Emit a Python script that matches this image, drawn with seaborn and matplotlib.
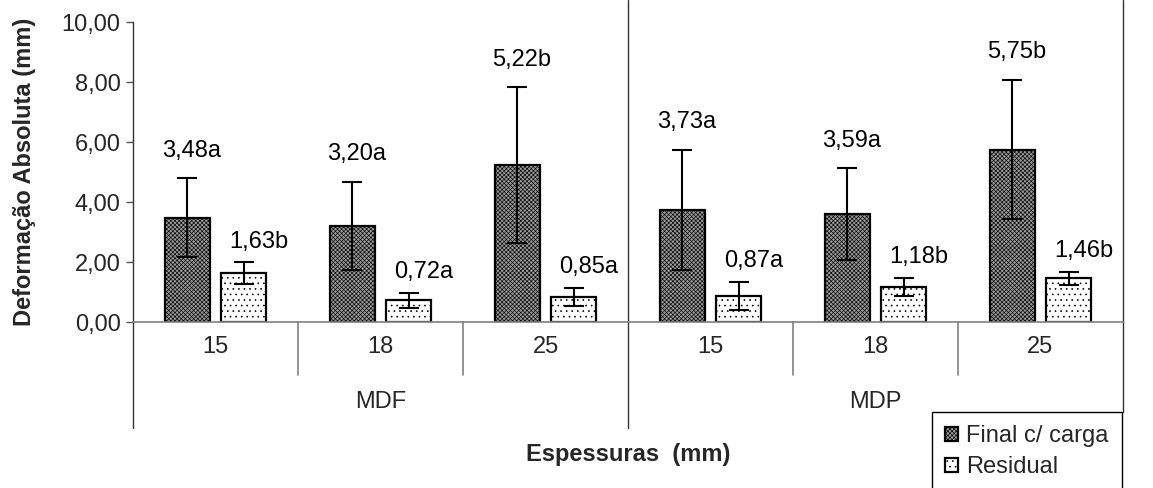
import matplotlib
matplotlib.use("Agg")
import matplotlib.pyplot as plt
from matplotlib.patches import Rectangle
import seaborn as sns
import pandas as pd

# ---- data ----
materials = ["MDF", "MDP"]
thicknesses = ["15", "18", "25"]
series = ["Final c/ carga", "Residual"]
final_vals = [3.48, 3.20, 5.22, 3.73, 3.59, 5.75]
final_err = [1.31, 1.47, 2.60, 2.00, 1.53, 2.32]
final_letters = ["a", "a", "b", "a", "a", "b"]
resid_vals = [1.63, 0.72, 0.85, 0.87, 1.18, 1.46]
resid_err = [0.36, 0.26, 0.30, 0.48, 0.30, 0.21]
resid_letters = ["b", "a", "a", "a", "b", "b"]
yticks = [0, 2, 4, 6, 8, 10]

cats = [f"{m} {t}" for m in materials for t in thicknesses]
df = pd.DataFrame({
    "cat": cats * 2,
    "serie": [series[0]] * 6 + [series[1]] * 6,
    "valor": final_vals + resid_vals,
})

sns.set_theme(style="white")
plt.rcParams["font.family"] = ["Liberation Sans", "DejaVu Sans"]
plt.rcParams["hatch.linewidth"] = 0.45

FS = 17
FSB = 17
fig = plt.figure(figsize=(11.53, 4.88), dpi=100)
ax = fig.add_axes([133 / 1153, 1 - 322 / 488, (1123 - 133) / 1153, 300 / 488])

sns.barplot(data=df, x="cat", y="valor", hue="serie", order=cats, hue_order=series,
            palette={series[0]: "#9a9a9a", series[1]: "white"},
            width=0.68, gap=0.2, edgecolor="black", linewidth=1.6,
            errorbar=None, legend=False, ax=ax)

hatches = ["xxxxxxxx", "..."]
errs = [final_err, resid_err]
vals = [final_vals, resid_vals]
letters = [final_letters, resid_letters]
label_offsets = [(3, 12), (11, 7)]

# group the drawn bars by series (left bar of each group = first series)
bars = [p for p in ax.patches if isinstance(p, Rectangle) and p.get_width() > 0]
groups = [[None] * len(cats), [None] * len(cats)]
for p in bars:
    xc = p.get_x() + p.get_width() / 2
    i = int(round(xc))
    k = 0 if xc < i else 1
    groups[k][i] = p

for k in range(2):
    xs = []
    for p in groups[k]:
        p.set_hatch(hatches[k])
        xs.append(p.get_x() + p.get_width() / 2)
    ax.errorbar(xs, vals[k], yerr=errs[k], fmt="none", ecolor="black",
                elinewidth=1.5, capsize=7, capthick=1.5, zorder=5)
    for x, v, e, l in zip(xs, vals[k], errs[k], letters[k]):
        txt = f"{v:.2f}".replace(".", ",") + l
        ax.annotate(txt, (x, v + e), xytext=label_offsets[k], textcoords="offset points",
                    ha="center", va="bottom", fontsize=FS, color="black")

ax.set_xlim(-0.5, 5.5)
ax.set_ylim(0, 10)
ax.set_yticks(yticks)
ax.set_yticklabels([f"{t:.2f}".replace(".", ",") for t in yticks], fontsize=FS)
ax.tick_params(axis="y", direction="out", length=5, width=1, color="#555555", pad=4, left=True)
ax.tick_params(axis="x", bottom=False, labelbottom=False)
ax.set_xlabel("")
ax.set_ylabel("Deformação Absoluta (mm)", fontsize=FSB, fontweight="bold", labelpad=18)

for s in ["top", "right"]:
    ax.spines[s].set_visible(False)
ax.spines["left"].set_color("#333333")
ax.spines["left"].set_linewidth(1.0)
ax.spines["bottom"].set_color("#808080")
ax.spines["bottom"].set_linewidth(1.2)

tr = ax.get_xaxis_transform()
# separators
for xs in [0.5, 1.5, 3.5, 4.5]:
    ax.plot([xs, xs], [0, -0.177], transform=tr, color="#808080", lw=1.2, clip_on=False)
ax.plot([2.5, 2.5], [1.073, -0.353], transform=tr, color="#333333", lw=1.0, clip_on=False)
ax.plot([-0.5, -0.5], [0, -0.353], transform=tr, color="#333333", lw=1.0, clip_on=False)
ax.plot([5.5, 5.5], [1.073, -0.30], transform=tr, color="#333333", lw=1.0, clip_on=False)

# category labels
for i, c in enumerate(cats):
    ax.text(i, -0.083, c.split(" ")[1], transform=tr, ha="center", va="center", fontsize=FS)
for j, m in enumerate(materials):
    ax.text(j * 3 + 1, -0.265, m, transform=tr, ha="center", va="center", fontsize=FS)

ax.text(0.5, -0.443, "Espessuras  (mm)", transform=ax.transAxes, ha="center", va="center",
        fontsize=FSB, fontweight="bold")

handles = [groups[0][0], groups[1][0]]
leg = fig.legend(handles, series, loc="upper left", bbox_to_anchor=(932 / 1153, 1 - 412 / 488),
                 frameon=True, fancybox=False, edgecolor="black", framealpha=1,
                 fontsize=FS, handlelength=0.55, handleheight=0.55, handletextpad=0.35,
                 borderpad=0.55, labelspacing=0.4, borderaxespad=0)
leg.get_frame().set_linewidth(1.0)

fig.savefig("out.png", dpi=100)
